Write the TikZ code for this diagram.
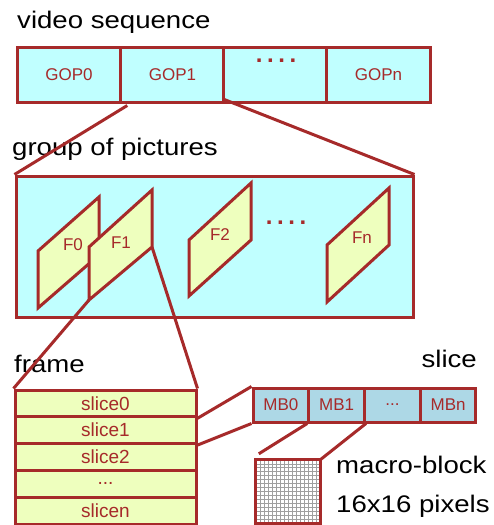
\documentclass[tikz,border=0pt]{standalone}
\usepackage{fontspec}
\setmainfont{Liberation Sans}
\usetikzlibrary{calc}
\definecolor{brd}{RGB}{166,42,42}
\definecolor{gopfill}{RGB}{192,255,255}
\definecolor{pagefill}{RGB}{238,255,190}
\definecolor{mbfill}{RGB}{173,216,230}
\newcommand\widetext[1]{\scalebox{1.15}[1]{#1}}
\newcommand\fourdots{.\hspace{4.6pt}.\hspace{4.6pt}.\hspace{4.6pt}.}
\begin{document}
\begin{tikzpicture}[x=1pt,y=-1pt,
  box/.style={draw=brd, line width=3pt, rectangle, inner sep=0pt, text=brd},
  gop/.style={box, fill=gopfill, minimum width=103.5pt, minimum height=55pt,
    font=\fontsize{17}{17}\selectfont},
  slicebox/.style={box, fill=pagefill, minimum width=181pt, minimum height=26.8pt,
    font=\fontsize{19}{19}\selectfont},
  mbbox/.style={box, fill=mbfill, minimum width=55.75pt, minimum height=34pt,
    font=\fontsize{17}{17}\selectfont},
  page/.style={draw=brd, line width=3pt, fill=pagefill, line join=miter},
  plab/.style={text=brd, inner sep=0pt, font=\fontsize{17}{17}\selectfont},
  dotrow/.style={text=brd, inner sep=0pt, font=\bfseries\fontsize{24}{24}\selectfont},
  conn/.style={draw=brd, line width=3pt},
  title/.style={anchor=base west, inner sep=0pt, font=\fontsize{24}{24}\selectfont},
  gridline/.style={draw=gray!75, line width=0.5pt}]
\useasboundingbox (0,0) rectangle (493,525);

% video sequence: row of GOPs
\node[title] (tseq) at (17,28) {\widetext{video sequence}};
\node[gop] (g0) at (69,74.5) {GOP0};
\node[gop] (g1) at (172.5,74.5) {GOP1};
\node[gop] (g2) at (275.5,74.5) {};
\node[gop] (g3) at (378.5,74.5) {GOPn};
\node[dotrow] (gdots) at (276,61) {\fourdots};

% group of pictures
\node[title] (tgop) at (12,155) {\widetext{group of pictures}};
\node[box, fill=gopfill, minimum width=397pt, minimum height=141pt] (gp) at (214.5,246.5) {};
\draw[conn] ([xshift=8pt,yshift=-2pt]g1.south west) -- (gp.north west);
\draw[conn] ([xshift=2pt,yshift=4pt]g2.south west) -- (gp.north east);

% frames inside the group
\draw[page] (38,251) -- (99,197) -- (99,255) -- (38,308) -- cycle;
\node[plab] (f0) at (73,245) {F0};
\draw[page] (89,247) -- (152,190) -- (152,247) coordinate (f1e) -- (89,300) coordinate (f1sw) -- cycle;
\node[plab] (f1) at (121,243) {F1};
\draw[page] (189,240) -- (251,183) -- (251,240) -- (189,296) -- cycle;
\node[plab] (f2) at (220,235) {F2};
\draw[page] (327,245) -- (389,188) -- (389,245) -- (327,302) -- cycle;
\node[plab] (fn) at (362,238) {Fn};
\node[dotrow] (fdots) at (286,223) {\fourdots};

% frame split into slices
\node[title] (tframe) at (14,372) {\widetext{frame}};
\node[slicebox] (s0) at (105.5,403.4) {slice0};
\node[slicebox] (s1) at (105.5,430.2) {slice1};
\node[slicebox] (s2) at (105.5,457.0) {slice2};
\node[slicebox] (s3) at (105.5,483.8) {...};
\node[slicebox] (s4) at (105.5,510.6) {slicen};
\draw[conn] (f1sw) -- (s0.north west);
\draw[conn] (f1e) -- (s0.north east);

% slice split into macro-blocks
\node[title, anchor=base east] (tslice) at (477,367) {\widetext{slice}};
\node[mbbox] (mb0) at (280.9,405) {MB0};
\node[mbbox] (mb1) at (336.6,405) {MB1};
\node[mbbox] (mb2) at (392.4,405) {...};
\node[mbbox] (mb3) at (448.1,405) {MBn};
\draw[conn] (s0.south east) -- (mb0.north west);
\draw[conn] (s1.south east) -- (mb0.south west);

% one macro-block with its 16x16 pixel grid
\node[inner sep=0pt, fill=white, minimum width=64pt, minimum height=63pt] (blk) at (288,491.5) {};
\foreach \i in {1,...,15} {
  \draw[gridline] ($(blk.north west)!\i/16!(blk.north east)$) -- ($(blk.south west)!\i/16!(blk.south east)$);
  \draw[gridline] ($(blk.north west)!\i/16!(blk.south west)$) -- ($(blk.north east)!\i/16!(blk.south east)$);
}
\draw[draw=brd, line width=3pt] (blk.north west) rectangle (blk.south east);
\draw[conn] (mb1.south west) -- ([xshift=3pt,yshift=6pt]blk.north west);
\draw[conn] (mb1.south east) -- (blk.north east);
\node[title] (tmb) at (336,473) {\widetext{macro-block}};
\node[title] (tpix) at (336,512) {\widetext{16x16 pixels}};
\end{tikzpicture}
\end{document}
